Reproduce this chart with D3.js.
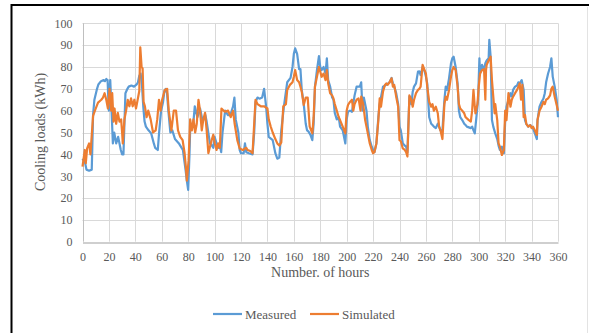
<!DOCTYPE html>
<html>
<head>
<meta charset="utf-8">
<script src="https://cdn.jsdelivr.net/npm/d3@7"></script>
<style>
  body { margin: 0; background: #fff; }
  svg { display: block; }
  text { font-family: "Liberation Serif", "Times New Roman", serif; fill: #595959; }
</style>
</head>
<body>
<div id="chart"></div>
<script>
// hour / kWh pairs
const measured = [
  [0,38],[2,36],[3,33],[5,32.5],[7,33],[7.5,45],[8,58],[9,65],[11,70],[12,72],[14,73.5],[16,74],[17,73.5],[18,74.5],
  [19,74],[19.5,66],[20,60],[20.5,70],[21,74],[22,60],[23,45],[24,50],[25.5,45],[27,48],[28,45],[29,42],[30,40],[31,40],
  [32.5,68],[34,70],[35,71],[37,71.5],[39,71],[41,72],[42,73],[43,76],[44,77],[45,72],[46,62],[47,55],[48,52.7],
  [50,51],[52,49.6],[54,45],[55,43],[57,42],[58,50],[59.5,60],[61,64],[62,69],[63,70],[64,68],[65,60],[66.5,50],[68,51],
  [70,47],[73,45],[74,44],[76,42],[78,33],[79,28],[80,23.7],[81,40],[81.5,51],[83,53],[84,55],[85,62],[87,57],[89,61],
  [91,55],[93,58],[94,55],[96.5,45],[98,44],[99,43],[100,48],[102,44],[103,43],[104,44],[105,41],[106,50],[108,60],
  [110,58],[112,58],[113,60],[114,62],[115,66],[116,56],[118,50],[119,42],
  [120,40.5],[122,40.5],[123,45],[124,41],[126,40.5],[128.75,40],[130,50],[131,64],[132.5,66],[134,65.5],[136,66],
  [137.5,70],[139,62],[140,54],[141,48],[144,46.5],[146,40.5],[147.5,38],[149,38.5],[150.5,51],[152.5,62],[155,73],
  [157.5,75],[159,80],[160,86],[161,88.5],[162.5,86],[164,79],[165,79],[166,69.5],[167.5,63],[169,54],[170,51],
  [171,50.5],[172.5,49],[174,46.5],[175,54],[176,71],[177.5,78.6],[179,85],[180,80],[181,78.6],[182.5,80],[184,77],
  [185,84],[186,74],[187.5,71],[189,66],[190,65],[191,59],[192.5,56],[194,57],[195,52.7],[197,51],[199,45],[200,56],
  [201,59.5],[202.5,60],[204,59.5],[206,67],[207.5,71],[210,71],[211,73],[212,60],[213,66],[215,60],[216,52.7],
  [217.5,46.5],[219,43.5],[220,42],[221,41],[222.5,45],[224,57],[225,63],[227.5,71],[230,71.8],[232.5,73],[234,75],
  [235,72.5],[236,71],[237.5,68],[239,63],[240,52.7],
  [241,51],[242.5,45],[244,44],[245,43.5],[246,41],[247.5,66.4],[249,63],[250,68.7],[251,71],[252.5,72.5],[254,77.9],
  [255,78],[256,76.3],[257.5,80],[259,78],[260,75.6],[261,72.5],[262.5,57],[264,54],[265,53.4],[266,52.7],[267.5,52],
  [269,54],[270,52.7],[271,51],[272.5,51],[274,65],[275,71],[276,69.5],[277.5,74.8],[279,81.7],[280,84],[281,84.7],
  [282.5,80],[284,72.5],[285,60],[286,57],[287.5,55.7],[289,54],[290,53.4],[291,52.7],[294,52],[295,52.7],[296,51],
  [297,49.6],[298,55.7],[299.5,65],[300.5,84],[301,77],[302.5,81],[304,78.6],[305,81.7],[306,83],[307.5,84],[308,92.4],
  [309,84.7],[310,55.7],[311,52.7],[312.5,49.6],[314,47],[315,44],[316,42],[317.5,43.5],[319,40.5],[320,55],[321,61.8],
  [322.5,65],[324,68],[325,66.5],[326,69.5],[327.5,71],[329,71.5],[330,73],[331,72.5],[332.5,74],[334,69.5],[335,55.7],
  [336,54],[337.5,52.7],[339,53.4],[340,52.7],[341,52],[342.5,49.6],[344,47],[344.5,55.7],[346,61.8],[347.5,64],
  [349,65.6],[350,68],[351,73],[352.5,77],[354,80],[355,84],[356,75.6],[357.5,71],[359,65],[360,57]
];

const simulated = [
  [0,34.4],[1.75,42],[2.5,36],[3.5,42.7],[5,45],[6,40],[6.75,46.5],[8,57.6],[9.75,60.6],[11.75,63.7],[14.25,65],
  [15.5,66],[16.75,68],[18,65],[19.25,61],[20.5,70],[21.75,60],[22.5,68],[23.5,55],[24.25,61],[25.5,54],[26.75,59],
  [28,55],[29.25,56],[30,50],[30.5,45],[31.75,56],[33,60],[34.25,65],[35.5,62],[36.75,65.6],[38,62],[39.25,65],
  [40.5,61],[41.75,65],[43,69],[43.75,89],[44.75,80],[45.5,79.4],[46.25,64],[47.25,62],[48.5,57],[49.75,60],
  [51.6,56],[53.4,50],[55.4,51],[56.6,56],[57.9,65],[59.1,60],[60.3,65],[62.3,69.5],[64.1,70],[65.3,60],[67.3,51],
  [69.1,60],[70.8,60],[72.3,51],[74,48],[75.8,46.5],[77.3,40.5],[78.3,34],[79,28],[80.3,37],[81.5,56],[82.8,51],
  [84,56],[85.3,50],[86.5,54],[87.8,65],[89,60],[90.3,51],[91.5,56],[92.8,59],[94,51],[95.3,40.5],[96.5,43.5],
  [97.8,46.5],[99,49],[100.2,45],[101.5,42],[102.7,45],[104,43],[105.2,61],[107.7,59.5],[110.2,60],[112.2,57],
  [114,60],[115.2,54],[117.2,46.5],[119,42.7],[121.4,42],[124,43],
  [125,42],[127,41.5],[128.75,40.5],[131,65],[132.5,63],[135,62],[137.5,62],[140,61],[141,56],[142.5,52.7],[144,50],
  [146,47],[147.5,45],[149,44],[150.5,45.5],[152,62],[154,63],[155,69.5],[157,71.8],[159,73],[160,75.5],[161,78.6],
  [162.5,74],[164,73],[165,71],[166,68.7],[167.5,62.6],[169,66],[170.5,66],[172,52.7],[174,49.6],[175,57],[176,71],
  [177.5,75.5],[179,80],[180,77.9],[181,75.5],[182.5,77],[184,74],[185,78.6],[186,72.5],[187.5,68],[189,67],
  [190,65.6],[191,63],[192.5,60],[194,57],[195,55.7],[197,52.7],[199,49.6],[200,60],[201,62.6],[202.5,64],[204,65],
  [205,60],[206,63],[207.5,65],[209,65.6],[210.5,60],[211,66.4],[212.5,63],[214,55.7],[215,52.7],[216,49.6],
  [217.5,45],[219,42],[220,40.5],[221,41],[222.5,45],[224,55.7],[225,65.6],[226,61.8],[227.5,68.7],[229,71.8],
  [230,72.5],[231,71.8],[232.5,73],[234,74.8],[235,71],[236,71.8],[237.5,66.4],[239,61.8],
  [240,46.5],[241,46],[242.5,42.7],[244,42],[245,41],[246,39],[247.5,67],[249,65],[250,61.8],[251,65],[252.5,68],
  [254,69.5],[255,70],[256,71],[257.5,81],[259,78.6],[260,77],[261,71],[262.5,64],[264,61.8],[265,63],[266,60],
  [267.5,61.8],[269,58.8],[270,52.7],[271,51],[272.5,47],[274,63],[275,66.4],[276,65],[277.5,69.5],[279,75.6],
  [280,78.6],[281,80],[282.5,78.6],[284,71],[285,63],[286,61],[287.5,60],[289,58.8],[290,57],[291,56.5],[292.5,55.7],
  [294,55],[295,60],[296,69.5],[297,61.8],[297.5,58.8],[299,63],[300,71],[301,77],[302.5,78.6],[304,79],[305,65],
  [305.5,78.6],[306,81],[307.5,83],[309,84.7],[310,74],[311,66.4],[312,58.8],[312.5,63],[314,55.7],[315,45],
  [316,43.5],[317.5,39.7],[319,42],[320,60],[321,55.7],[322.5,68],[324,61.8],[325,65],[326,66.4],[327.5,68],
  [329,69.5],[330,71],[331,72.5],[332,65],[333,71.8],[334,57],[335,58],[336,54],[337.5,52.7],[339,53.4],[340,52],
  [341,52.7],[342.5,51],[344,48.9],[344.5,55.7],[346,60],[347.5,61.8],[349,64],[350,63],[351,65],[352.5,65.6],
  [354,67],[355,70],[356,71],[357.5,66.4],[359,62.6],[360,60]
];

const xTicks = d3.range(0, 361, 20);
const yTicks = d3.range(0, 101, 10);
const seriesNames = ['Measured', 'Simulated'];
const seriesColors = ['#5B9BD5', '#ED7D31'];

const width = 589, height = 333;
const margin = {left: 82.5, right: 31, top: 23.3, bottom: 91.3};

const svg = d3.select('#chart').append('svg')
    .attr('width', width)
    .attr('height', height);

const x = d3.scaleLinear().domain([0, 360]).range([margin.left, width - margin.right]);
const y = d3.scaleLinear().domain([0, 100]).range([height - margin.bottom, margin.top]);

// grid
svg.append('g')
    .selectAll('line.h')
    .data(yTicks.filter(d => d > 0))
    .enter().append('line')
    .attr('x1', x(0)).attr('x2', x(360))
    .attr('y1', d => Math.round(y(d)) + 0.5).attr('y2', d => Math.round(y(d)) + 0.5)
    .attr('stroke', '#D9D9D9');

svg.append('g')
    .selectAll('line.v')
    .data(xTicks)
    .enter().append('line')
    .attr('x1', d => Math.round(x(d)) + 0.5).attr('x2', d => Math.round(x(d)) + 0.5)
    .attr('y1', y(100)).attr('y2', y(0))
    .attr('stroke', d => d === 0 ? '#BFBFBF' : '#D9D9D9');

// x axis
const xAxis = svg.append('g')
    .attr('transform', 'translate(0,' + (Math.round(y(0)) + 0.5) + ')')
    .call(d3.axisBottom(x).tickValues(xTicks).tickSize(0).tickPadding(10));
xAxis.select('.domain').attr('stroke', '#BFBFBF').attr('stroke-width', 1.5);
xAxis.selectAll('text').style('font-size', '12px').attr('fill', '#595959')
    .style('font-family', '"Liberation Serif", serif');

// y axis
const yAxis = svg.append('g')
    .attr('transform', 'translate(' + x(0) + ',0)')
    .call(d3.axisLeft(y).tickValues(yTicks).tickSize(0).tickPadding(10));
yAxis.select('.domain').remove();
yAxis.selectAll('text').style('font-size', '12px').attr('fill', '#595959')
    .style('font-family', '"Liberation Serif", serif');

// lines
const line = d3.line()
    .x(d => x(d[0]))
    .y(d => y(d[1]));

[measured, simulated].forEach((s, i) => {
    svg.append('path')
        .datum(s)
        .attr('fill', 'none')
        .attr('stroke', seriesColors[i])
        .attr('stroke-width', 2.2)
        .attr('stroke-linejoin', 'round')
        .attr('d', line);
});

// axis titles
svg.append('text')
    .attr('x', (x(0) + x(360)) / 2)
    .attr('y', 277)
    .attr('text-anchor', 'middle')
    .style('font-size', '14px')
    .text('Number. of hours');

svg.append('text')
    .attr('transform', 'translate(45,' + 132 + ') rotate(-90)')
    .attr('text-anchor', 'middle')
    .style('font-size', '14px')
    .text('Cooling loads (kWh)');

// legend
const legend = svg.append('g').attr('transform', 'translate(213,314)');
const legendX = [0, 97];
seriesNames.forEach((name, i) => {
    const g = legend.append('g').attr('transform', 'translate(' + legendX[i] + ',0)');
    g.append('line')
        .attr('x1', 0).attr('x2', 29)
        .attr('stroke', seriesColors[i])
        .attr('stroke-width', 2.2);
    g.append('text')
        .attr('x', 32)
        .attr('y', 4.5)
        .style('font-size', '13px')
        .text(name);
});

// frame from the source figure
svg.append('rect')
    .attr('x', 11.5).attr('y', 5)
    .attr('width', width).attr('height', height)
    .attr('fill', 'none')
    .attr('stroke', '#000')
    .attr('stroke-width', 2);
svg.append('line')
    .attr('x1', 587.5).attr('x2', 587.5)
    .attr('y1', 7).attr('y2', height)
    .attr('stroke', '#E3E3E3');
</script>
</body>
</html>
